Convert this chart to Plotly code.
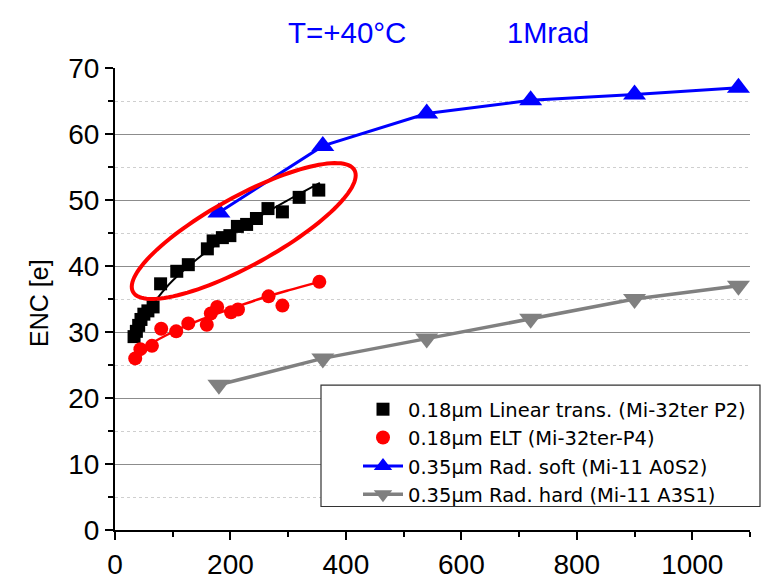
import numpy as np
import plotly.graph_objects as go

# ---------------- data ----------------
lin_x = [33, 37, 41, 45, 50, 57, 66, 79, 107, 127, 160, 170, 186, 199, 212, 228, 245, 265, 290, 319, 353]
lin_y = [29.3, 30.1, 31.0, 31.9, 32.7, 33.2, 33.8, 37.3, 39.2, 40.2, 42.6, 43.8, 44.3, 44.6, 46.0, 46.3, 47.2, 48.7, 48.2, 50.4, 51.5]
lin_fit_x = [28, 50, 75, 100, 150, 200, 250, 300, 355]
lin_fit_y = [28.8, 32.3, 35.3, 37.8, 41.6, 44.7, 47.5, 50.0, 52.6]

elt_x = [35, 44, 64, 80, 106, 127, 159, 166, 177, 201, 213, 266, 290, 354]
elt_y = [26.0, 27.4, 27.9, 30.5, 30.1, 31.3, 31.1, 32.8, 33.8, 33.0, 33.4, 35.4, 34.0, 37.6]
elt_fit_x = [35, 60, 100, 150, 200, 250, 300, 354]
elt_fit_y = [26.5, 28.1, 30.0, 31.9, 33.5, 35.0, 36.3, 37.6]

rad_x = [180, 360, 540, 720, 900, 1080]
soft_y = [48.1, 58.2, 63.1, 65.1, 66.0, 67.0]
hard_y = [22.0, 26.0, 29.0, 32.0, 35.0, 37.0]

names = ["0.18µm Linear trans. (Mi-32ter P2)",
         "0.18µm ELT (Mi-32ter-P4)",
         "0.35µm Rad. soft (Mi-11 A0S2)",
         "0.35µm Rad. hard (Mi-11 A3S1)"]

x_ticks = [0, 200, 400, 600, 800, 1000]
y_ticks = [0, 10, 20, 30, 40, 50, 60, 70]

# ---------------- layout constants ----------------
W, H = 770, 584
ML, MR, MT, MB = 107, 28, 60, 52
XR = [0, 1100]
YR = [0, 70]
PW = W - ML - MR
PH = H - MT - MB
px_x = PW / (XR[1] - XR[0])
px_y = PH / (YR[1] - YR[0])

FONT = "Liberation Sans, Arial, sans-serif"
LEG_FONT = "DejaVu Sans, Liberation Sans, sans-serif"


def px2paper_x(px):
    return (px - ML) / PW


def px2paper_y(py):
    return (H - MB - py) / PH


fig = go.Figure()

fig.add_trace(go.Scatter(x=lin_fit_x, y=lin_fit_y, mode="lines", line=dict(color="black", width=2, shape="spline"),
                         showlegend=False, hoverinfo="skip"))
fig.add_trace(go.Scatter(x=elt_fit_x, y=elt_fit_y, mode="lines", line=dict(color="#ff0000", width=2.5, shape="spline"),
                         showlegend=False, hoverinfo="skip"))
fig.add_trace(go.Scatter(x=rad_x, y=soft_y, mode="lines+markers", name=names[2],
                         line=dict(color="#0000ff", width=3),
                         marker=dict(symbol="triangle-up", size=20, color="#0000ff"), legendrank=3))
fig.add_trace(go.Scatter(x=rad_x, y=hard_y, mode="lines+markers", name=names[3],
                         line=dict(color="#808080", width=3.5),
                         marker=dict(symbol="triangle-down", size=20, color="#808080"), legendrank=4))
fig.add_trace(go.Scatter(x=lin_x, y=lin_y, mode="markers", name=names[0],
                         marker=dict(symbol="square", size=13, color="black"), legendrank=1))
fig.add_trace(go.Scatter(x=elt_x, y=elt_y, mode="markers", name=names[1],
                         marker=dict(symbol="circle", size=14, color="#ff0000"), legendrank=2))

# ---------------- red ellipse (annotation) ----------------
cx, cy = 223.0, 45.3          # centre in data units
a_px, b_px, ang = 127, 35, np.deg2rad(29.4)
t = np.linspace(0, 2 * np.pi, 121)
ex_px = a_px * np.cos(t) * np.cos(ang) - b_px * np.sin(t) * np.sin(ang)
ey_px = a_px * np.cos(t) * np.sin(ang) + b_px * np.sin(t) * np.cos(ang)
ex = cx + ex_px / px_x
ey = cy + ey_px / px_y
path = "M " + " L ".join(f"{x:.3f},{y:.3f}" for x, y in zip(ex, ey)) + " Z"

shapes = [
    dict(type="path", path=path, xref="x", yref="y", line=dict(color="#ff0000", width=4), layer="above"),
    # legend frame
    dict(type="rect", xref="paper", yref="paper",
         x0=px2paper_x(313), x1=px2paper_x(752), y0=px2paper_y(508), y1=px2paper_y(384),
         line=dict(color="#333333", width=1.2), fillcolor="white", layer="above"),
    # hide gridline at the top edge
    dict(type="line", xref="paper", yref="y", x0=0.003, x1=1, y0=70, y1=70,
         line=dict(color="white", width=2), layer="between"),
]

annotations = [
    dict(text="T=+40°C", x=px2paper_x(339), y=px2paper_y(24), xref="paper", yref="paper",
         xanchor="center", yanchor="middle",
         showarrow=False, font=dict(family=FONT, size=29.5, color="#0000ff")),
    dict(text="1Mrad", x=px2paper_x(540), y=px2paper_y(24), xref="paper", yref="paper",
         xanchor="center", yanchor="middle",
         showarrow=False, font=dict(family=FONT, size=29, color="#0000ff")),
    dict(text="ENC [e]", x=px2paper_x(31), y=px2paper_y(300), xref="paper", yref="paper",
         xanchor="center", yanchor="middle",
         showarrow=False, textangle=-90, font=dict(family=FONT, size=25, color="black")),
]

fig.update_layout(
    width=W, height=H,
    margin=dict(l=ML, r=MR, t=MT, b=MB),
    paper_bgcolor="white", plot_bgcolor="white",
    font=dict(family=FONT, color="black"),
    shapes=shapes, annotations=annotations,
    legend=dict(x=px2paper_x(350), y=px2paper_y(389), xanchor="left", yanchor="top",
                bgcolor="rgba(0,0,0,0)", borderwidth=0, font=dict(size=19.5, family=LEG_FONT),
                traceorder="normal", itemwidth=40, tracegroupgap=0),
    xaxis=dict(range=XR, tickvals=x_ticks, showline=True, linecolor="black", linewidth=2,
               ticks="outside", ticklen=8, tickwidth=2, tickcolor="black",
               minor=dict(dtick=100, ticks="outside", ticklen=5, tickwidth=2, tickcolor="black"),
               showgrid=False, zeroline=False, tickfont=dict(size=28, family=FONT)),
    yaxis=dict(range=YR, tickvals=y_ticks, showline=True, linecolor="black", linewidth=2,
               ticks="outside", ticklen=8, tickwidth=2, tickcolor="black",
               showgrid=True, gridcolor="#8c8c8c", gridwidth=1,
               minor=dict(dtick=5, ticks="outside", ticklen=5, tickwidth=2, tickcolor="black",
                          showgrid=True, gridcolor="#cfcfcf", griddash="dot", gridwidth=1),
               zeroline=False, tickfont=dict(size=28, family=FONT)),
)

fig.write_html("out.html")
